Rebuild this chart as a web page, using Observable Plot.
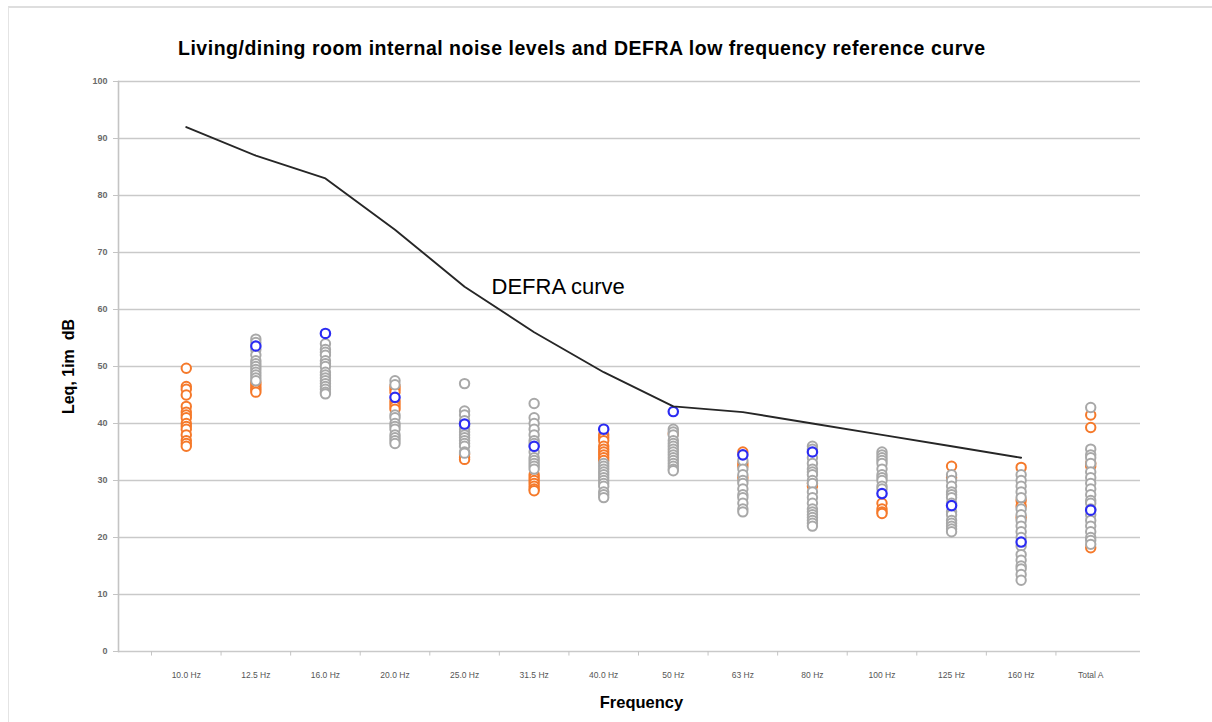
<!DOCTYPE html>
<html>
<head>
<meta charset="utf-8">
<script src="https://cdn.jsdelivr.net/npm/d3@7"></script>
<script src="https://cdn.jsdelivr.net/npm/@observablehq/plot@0.6"></script>
<style>
  html, body { margin: 0; padding: 0; background: #ffffff; }
  #wrap { position: relative; width: 1212px; height: 722px; overflow: hidden; }
  #edge { position: absolute; left: 8px; top: 6px; right: 0; bottom: 0;
          border-top: 2px solid #dedede; border-left: 1px solid #e4e4e4; pointer-events: none; }
  #chart { position: absolute; left: 0; top: 0; }
</style>
</head>
<body>
<div id="wrap"><div id="chart"></div><div id="edge"></div></div>
<script>
const titleText = "Living/dining room internal noise levels and DEFRA low frequency reference curve";
const xTitle = "Frequency";
const yTitle = "Leq, 1im  dB";
const curveLabel = "DEFRA curve";

const categories = ["10.0 Hz", "12.5 Hz", "16.0 Hz", "20.0 Hz", "25.0 Hz", "31.5 Hz", "40.0 Hz",
                    "50 Hz", "63 Hz", "80 Hz", "100 Hz", "125 Hz", "160 Hz", "Total A"];
const yTicks = [0, 10, 20, 30, 40, 50, 60, 70, 80, 90, 100];

// DEFRA low frequency reference curve (10 Hz .. 160 Hz)
const defraCurve = [92, 87, 83, 74, 64, 56, 49, 43, 42, 40, 38, 36, 34];

// measured levels, one list per frequency band
const orangeLevels = [
  [49.7, 46.5, 46.0, 45.0, 43.0, 42.0, 41.5, 41.0, 40.0, 39.5, 39.0, 38.0, 37.0, 36.5, 36.0],
  [47.2, 46.8, 46.3, 45.9, 45.5],
  [],
  [46.5, 46.0, 45.5, 44.0, 43.5, 43.0, 42.5],
  [34.6, 34.1, 33.7],
  [31.0, 30.5, 30.0, 29.5, 29.0, 28.5, 28.2],
  [38.0, 37.5, 37.0, 36.0, 35.5, 35.0, 34.5, 34.0, 33.5],
  [38.2],
  [35.0, 33.0, 32.5, 30.5],
  [29.5, 29.0],
  [26.0, 25.0, 24.5, 24.2],
  [32.5, 30.5],
  [32.3, 26.5, 25.5, 23.5],
  [41.5, 39.3, 33.0, 32.5, 18.2]
];
const greyLevels = [
  [],
  [54.8, 54.2, 53.0, 52.0, 51.0, 50.5, 50.0, 49.5, 49.0, 48.5, 48.0, 47.5],
  [54.0, 53.0, 52.5, 52.0, 51.0, 50.5, 50.0, 49.0, 48.5, 48.0, 47.5, 47.0, 46.5, 46.0, 45.5, 45.2],
  [47.5, 46.8, 41.5, 41.0, 40.0, 39.5, 39.0, 38.0, 37.5, 37.0, 36.5],
  [47.0, 42.2, 41.5, 40.5, 39.5, 39.0, 38.5, 38.0, 37.5, 37.0, 36.5, 36.0, 35.0, 34.8],
  [43.5, 41.0, 40.0, 39.0, 38.0, 37.0, 36.5, 35.0, 34.0, 33.5, 33.0, 32.5, 32.0],
  [33.0, 32.5, 32.0, 31.5, 31.0, 30.5, 30.0, 29.5, 29.0, 28.0, 27.5, 27.0],
  [39.0, 38.5, 38.0, 37.0, 36.5, 36.0, 35.5, 35.0, 34.5, 34.0, 33.5, 33.0, 32.5, 32.0, 31.7],
  [33.5, 32.0, 31.0, 30.0, 29.5, 28.5, 27.5, 27.0, 26.0, 25.0, 24.5],
  [36.0, 35.5, 34.0, 33.0, 32.0, 31.5, 31.0, 30.0, 29.5, 28.0, 27.0, 26.0, 25.0, 24.5, 24.0, 23.5, 23.0, 22.5, 22.0],
  [35.0, 34.5, 34.0, 33.5, 33.0, 32.0, 31.0, 30.5, 30.0, 29.0, 28.5],
  [31.0, 30.0, 29.0, 28.0, 27.5, 27.0, 26.0, 24.5, 24.0, 23.0, 22.5, 22.0, 21.5, 21.0],
  [31.0, 30.0, 29.0, 28.0, 27.0, 25.0, 24.0, 23.0, 22.0, 21.0, 20.0, 18.5, 17.0, 16.0, 15.0, 14.5, 13.5, 12.5],
  [42.8, 35.5, 34.5, 34.0, 33.0, 31.5, 30.5, 29.5, 28.5, 27.5, 26.5, 26.0, 25.0, 24.0, 23.0, 22.0, 21.0, 20.0, 19.5, 18.8]
];
const blueLevels = [null, 53.6, 55.8, 44.6, 39.9, 36.0, 39.0, 42.1, 34.5, 35.0, 27.7, 25.6, 19.2, 24.8];

const colors = { orange: "#f5792a", grey: "#a8a8a8", blue: "#2b2bf2" };

// build tables
const curveRows = defraCurve.map((v, i) => ({ band: categories[i], level: v }));
const toRows = (lists, series) => lists.flatMap((vals, i) => vals.map(v => ({ band: categories[i], level: v, series })));
const orangeRows = toRows(orangeLevels, "orange");
const greyRows = toRows(greyLevels, "grey");
const blueRows = blueLevels.map((v, i) => ({ band: categories[i], level: v, series: "blue" })).filter(d => d.level != null);

const W = 1212, H = 722;
const mL = 118, mR = 72, mT = 81, mB = 71;
const bandStart = 151, bandEnd = 1125;
const halfBand = (bandEnd - bandStart) / categories.length / 2;
const font = "'Liberation Sans', Arial, sans-serif";

const dotOpts = { x: "band", y: "level", r: 4.7, strokeWidth: 2, fill: "white" };

const chart = Plot.plot({
  width: W, height: H,
  marginLeft: mL, marginRight: mR, marginTop: mT, marginBottom: mB,
  style: { fontFamily: font, background: "transparent", overflow: "visible" },
  x: { type: "band", domain: categories, range: [bandStart, bandEnd], padding: 0, round: false, label: null },
  y: { domain: [0, 100], label: null },
  marks: [
    Plot.gridY(yTicks, { stroke: "#c9c9c9", strokeOpacity: 1, strokeWidth: 1.6 }),
    Plot.frame({ anchor: "left", stroke: "#c4c4c4", strokeWidth: 1.6 }),
    Plot.axisY(yTicks, { tickSize: 5, tickPadding: 6, fontSize: 9, fontWeight: "bold", fill: "#6a6a6a", stroke: "#c4c4c4", label: null }),
    Plot.axisX({ tickSize: 0, tickPadding: 20, fontSize: 8.5, fill: "#555", label: null }),
    Plot.ruleX(categories, { x: d => d, y1: 0, y2: -0.8, dx: -halfBand, stroke: "#c4c4c4", strokeWidth: 1 }),
    Plot.dot(orangeRows, { ...dotOpts, stroke: colors.orange }),
    Plot.dot(greyRows, { ...dotOpts, stroke: colors.grey }),
    Plot.dot(blueRows, { ...dotOpts, stroke: colors.blue, strokeWidth: 2.2 }),
    Plot.line(curveRows, { x: "band", y: "level", stroke: "#262626", strokeWidth: 1.9 }),
    Plot.text([curveLabel], { x: () => "31.5 Hz", y: () => 64, text: d => d, dx: 24, fontSize: 22, fill: "#000", textAnchor: "middle", style: "letter-spacing:0.6px" }),
    Plot.text([titleText], { frameAnchor: "top", text: d => d, dy: -40, dx: -48, fontSize: 19.5, fontWeight: "bold", fill: "#000", textAnchor: "middle" }),
    Plot.text([xTitle], { frameAnchor: "bottom", text: d => d, dy: 56, dx: 12, fontSize: 16.5, fontWeight: "bold", fill: "#000" }),
    Plot.text([yTitle], { frameAnchor: "left", text: d => d, rotate: -90, dx: -50, dy: 0, fontSize: 16, fontWeight: "bold", fill: "#000", textAnchor: "middle" })
  ]
});
d3.select(chart).selectAll("text").filter(function () { return this.textContent === titleText; })
  .attr("textLength", 807).attr("lengthAdjust", "spacing");
document.getElementById("chart").appendChild(chart);
</script>
</body>
</html>
